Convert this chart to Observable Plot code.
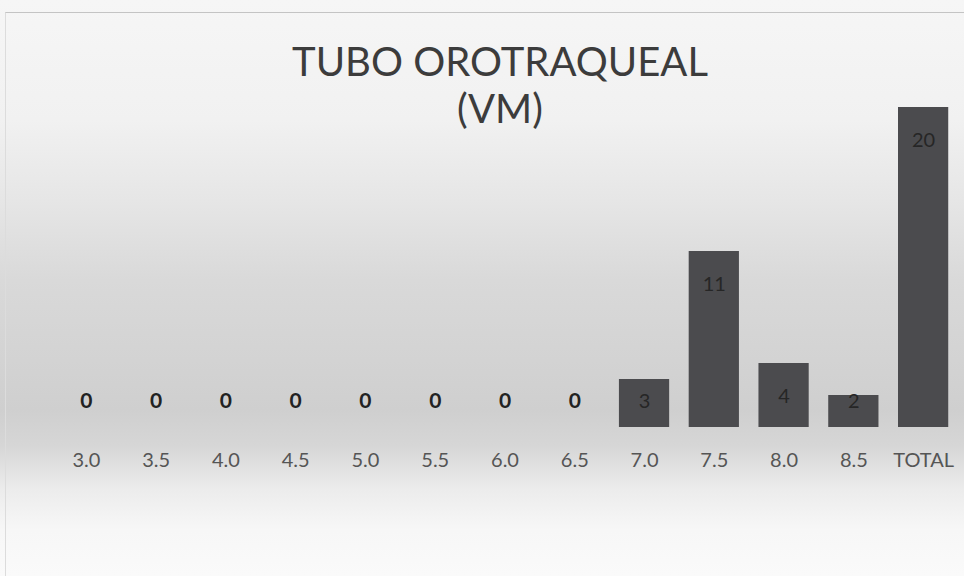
<!DOCTYPE html>
<html>
<head>
<meta charset="utf-8">
<script src="https://cdn.jsdelivr.net/npm/d3@7"></script>
<script src="https://cdn.jsdelivr.net/npm/@observablehq/plot@0.6"></script>
<style>
  html, body { margin: 0; padding: 0; }
  #wrap {
    position: relative; width: 964px; height: 576px; overflow: hidden;
    background: linear-gradient(to bottom, #f6f6f6 0px, #f1f1f1 120px, #e6e6e6 200px, #d9d9d9 280px, #d3d3d3 360px, #cfcfcf 410px, #d6d6d6 445px, #ececec 490px, #f7f7f7 530px, #fafafa 576px);
  }
  #frame { position: absolute; left: 5px; top: 12px; right: 0; bottom: 0; border-top: 1px solid #c4c4c4; border-left: 1px solid #dcdcdc; }
  #title {
    position: absolute; left: 0; top: 38px; width: 1000px;
    text-align: center; font-family: Lato, "Open Sans", sans-serif;
    font-size: 40px; line-height: 47px; color: #3c3c3c; z-index: 2;
  }
  #chart { position: absolute; left: 0; top: 0; }
</style>
</head>
<body>
<div id="wrap">
  <div id="frame"></div>
  <div id="chart"></div>
  <div id="title">TUBO OROTRAQUEAL<br>(VM)</div>
</div>
<script>
const categories = ["3.0","3.5","4.0","4.5","5.0","5.5","6.0","6.5","7.0","7.5","8.0","8.5","TOTAL"];
const counts = [0,0,0,0,0,0,0,0,3,11,4,2,20];

const data = categories.map((c, i) => ({cat: c, value: counts[i]}));
const labelY = d => Math.max(d.value - 2.05, 1.65);

const chart = Plot.plot({
  width: 964,
  height: 576,
  marginLeft: 51,
  marginRight: 6,
  marginTop: 107,
  marginBottom: 149,
  style: {background: "transparent", fontFamily: "Lato, 'Open Sans', sans-serif"},
  x: {domain: categories, paddingInner: 0.28, paddingOuter: 0.14, round: false, label: null},
  y: {domain: [0, 20], axis: null},
  marks: [
    Plot.barY(data, {x: "cat", y: "value", fill: "#4b4b4e"}),
    Plot.text(data.filter(d => d.value === 0), {x: "cat", y: labelY, text: d => String(d.value), fill: "#222", fontSize: 21, fontWeight: "bold"}),
    Plot.text(data.filter(d => d.value !== 0), {x: "cat", y: labelY, text: d => String(d.value), fill: "#262626", fontSize: 20}),
    Plot.axisX({tickSize: 0, tickPadding: 25, fontSize: 20, color: "#555", label: null})
  ]
});
document.getElementById("chart").appendChild(chart);
</script>
</body>
</html>
